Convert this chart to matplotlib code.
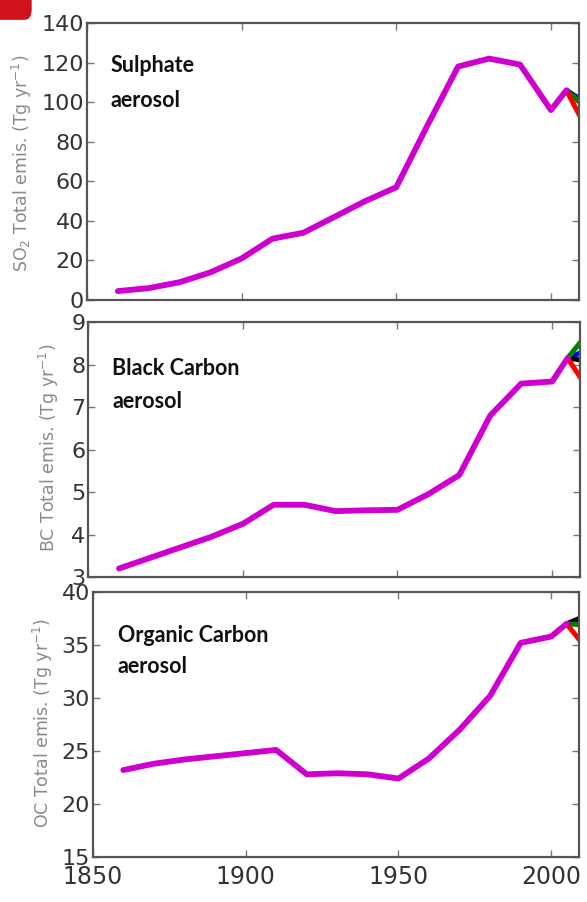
import matplotlib
matplotlib.use("Agg")
import matplotlib.pyplot as plt
from matplotlib.patches import FancyBboxPatch

# ***** Data *****
YEARS = [1860, 1870, 1880, 1890, 1900, 1910, 1920, 1930, 1940, 1950,
         1960, 1970, 1980, 1990, 2000, 2005]
SO2 = [4.5, 6, 9, 14, 21, 31, 34, 42, 50, 57, 88, 118, 122, 119, 96, 106]
BC = [3.2, 3.45, 3.7, 3.95, 4.25, 4.7, 4.7, 4.55, 4.57, 4.58, 4.95, 5.4,
      6.8, 7.55, 7.6, 8.15]
OC = [23.2, 23.8, 24.2, 24.5, 24.8, 25.1, 22.8, 22.9, 22.8, 22.4, 24.3,
      27.0, 30.2, 35.2, 35.8, 37.0]

# scenario branches after 2005
END_YEAR = 2010
SCEN_COLORS = ['blue', 'black', 'green', 'red']
SO2_END = [101, 100, 99, 91]
BC_END = [8.3, 8.1, 8.6, 7.6]
OC_END = [37.2, 37.6, 36.9, 35.2]

YLABELS = ['SO$_2$ Total emis. (Tg yr$^{-1}$)',
           'BC Total emis. (Tg yr$^{-1}$)',
           'OC Total emis. (Tg yr$^{-1}$)']
NAMES = [('Sulphate', 'aerosol'), ('Black Carbon', 'aerosol'),
         ('Organic Carbon', 'aerosol')]
YLIMS = [(0, 140), (3, 9), (15, 40)]
YTICKS = [list(range(0, 141, 20)), list(range(3, 10)), list(range(15, 41, 5))]
XTICKS = [1850, 1900, 1950, 2000]

MAGENTA = '#cf00cf'
FRAME = '#555555'

fig = plt.figure(figsize=(5.87, 9.02), dpi=100)

# axes rectangles [left, bottom, width, height]
rects = [[0.148, 0.6674, 0.838, 0.3071],
         [0.150, 0.3603, 0.838, 0.2827],
         [0.158, 0.0499, 0.828, 0.2938]]
name_pos = [(0.049, 0.823, 0.697), (0.049, 0.792, 0.663), (0.051, 0.811, 0.694)]
ylabel_pos = [(22, 163), (49, 448), (43, 723)]

series = [SO2, BC, OC]
ends = [SO2_END, BC_END, OC_END]

for i in range(3):
    ax = fig.add_axes(rects[i])
    for c, v in zip(SCEN_COLORS, ends[i]):
        ax.plot([YEARS[-1], END_YEAR], [series[i][-1], v], color=c,
                linewidth=3.6, solid_capstyle='butt', zorder=2)
    ax.plot(YEARS, series[i], color=MAGENTA, linewidth=4.2,
            solid_capstyle='round', solid_joinstyle='round', zorder=3)
    ax.set_xlim(1850, 2009)
    ax.set_ylim(*YLIMS[i])
    ax.set_xticks(XTICKS)
    ax.set_yticks(YTICKS[i])
    for s in ax.spines.values():
        s.set_color(FRAME)
        s.set_linewidth(1.6)
    ax.tick_params(direction='in', length=5, width=1, color='#777777',
                   top=True, right=True, labelcolor='#333333', pad=2)
    ax.tick_params(axis='y', labelsize=16)
    if i < 2:
        ax.set_xticklabels([])
    else:
        ax.tick_params(axis='x', labelsize=17, pad=6)
    x0, y1, y2 = name_pos[i]
    ax.text(x0, y1, NAMES[i][0], transform=ax.transAxes, fontsize=15.5,
            fontweight='bold', family=['Lato', 'DejaVu Sans'], color='#111111')
    ax.text(x0, y2, NAMES[i][1], transform=ax.transAxes, fontsize=15.5,
            fontweight='bold', family=['Lato', 'DejaVu Sans'], color='#111111')
    px, py = ylabel_pos[i]
    fig.text(px / 587, 1 - py / 902, YLABELS[i], rotation=90, ha='center',
             va='center', fontsize=12.5, color='#8a8a8a')

# red corner tab in the top-left
tab = FancyBboxPatch((-0.05, 0.978), 0.104, 0.06, boxstyle='round,pad=0,rounding_size=0.012',
                     transform=fig.transFigure, facecolor='#d0121b', edgecolor='none')
fig.patches.append(tab)

fig.savefig('out.png', dpi=100)
